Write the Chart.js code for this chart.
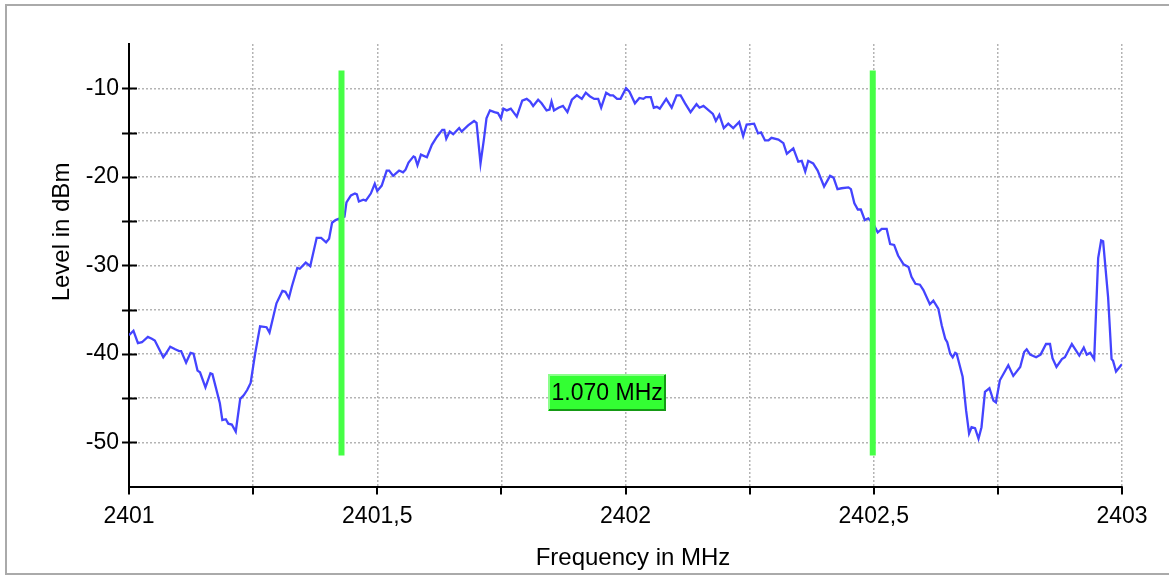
<!DOCTYPE html>
<html>
<head>
<meta charset="utf-8">
<script src="https://cdn.jsdelivr.net/npm/chart.js@4.4.1/dist/chart.umd.min.js"></script>
<style>
  html, body { margin: 0; padding: 0; background: #fff; }
  #wrap { width: 1169px; height: 575px; }
</style>
</head>
<body>
<div id="wrap"><canvas id="spectrum" width="1169" height="575"></canvas></div>
<script>
// spectrum trace (MHz / dBm)
var freqMHz = [
  2401.000,2401.009,2401.018,2401.026,2401.038,2401.046,2401.052,2401.069,2401.074,2401.083,
  2401.093,2401.101,2401.105,2401.115,2401.124,2401.130,2401.138,2401.143,2401.154,2401.164,
  2401.168,2401.183,2401.188,2401.195,2401.200,2401.207,2401.215,2401.224,2401.231,2401.238,
  2401.245,2401.254,2401.264,2401.277,2401.283,2401.297,2401.309,2401.315,2401.322,2401.328,
  2401.339,2401.344,2401.356,2401.365,2401.378,2401.387,2401.397,2401.403,2401.409,2401.416,
  2401.434,2401.438,2401.447,2401.455,2401.459,2401.463,2401.472,2401.477,2401.487,2401.495,
  2401.500,2401.509,2401.519,2401.524,2401.532,2401.544,2401.552,2401.557,2401.563,2401.573,
  2401.576,2401.581,2401.588,2401.600,2401.610,2401.620,2401.631,2401.635,2401.639,2401.646,
  2401.653,2401.665,2401.670,2401.683,2401.695,2401.700,2401.708,2401.715,2401.720,2401.727,
  2401.736,2401.743,2401.749,2401.754,2401.761,2401.769,2401.781,2401.792,2401.801,2401.808,
  2401.814,2401.824,2401.831,2401.841,2401.847,2401.851,2401.856,2401.865,2401.874,2401.883,
  2401.892,2401.902,2401.912,2401.920,2401.928,2401.937,2401.945,2401.951,2401.961,2401.969,
  2401.975,2401.983,2401.990,2402.001,2402.008,2402.019,2402.028,2402.036,2402.041,2402.051,
  2402.057,2402.063,2402.069,2402.082,2402.093,2402.103,2402.111,2402.120,2402.131,2402.143,
  2402.149,2402.157,2402.176,2402.182,2402.189,2402.198,2402.207,2402.217,2402.229,2402.237,
  2402.244,2402.259,2402.267,2402.273,2402.281,2402.288,2402.294,2402.308,2402.318,2402.325,
  2402.338,2402.348,2402.355,2402.362,2402.368,2402.378,2402.387,2402.400,2402.412,2402.419,
  2402.427,2402.435,2402.449,2402.454,2402.461,2402.468,2402.474,2402.482,2402.489,2402.499,
  2402.508,2402.516,2402.526,2402.533,2402.541,2402.549,2402.560,2402.570,2402.576,2402.584,
  2402.593,2402.600,2402.613,2402.620,2402.630,2402.637,2402.644,2402.648,2402.654,2402.659,
  2402.664,2402.667,2402.679,2402.686,2402.692,2402.697,2402.704,2402.711,2402.717,2402.724,
  2402.733,2402.741,2402.746,2402.754,2402.762,2402.771,2402.781,2402.795,2402.803,2402.808,
  2402.815,2402.827,2402.836,2402.847,2402.855,2402.860,2402.868,2402.879,2402.885,2402.899,
  2402.914,2402.923,2402.929,2402.936,2402.944,2402.952,2402.958,2402.962,2402.972,2402.979,
  2402.982,2402.988,2402.998,2403.000
];
var levelDbm = [
  -37.9,-37.4,-38.8,-38.7,-38.1,-38.3,-38.5,-40.4,-40.0,-39.2,
  -39.5,-39.7,-39.7,-41.0,-39.9,-40.0,-41.9,-42.1,-43.8,-42.2,
  -42.3,-45.6,-47.5,-47.4,-47.9,-48.0,-48.8,-45.1,-44.7,-44.1,
  -43.3,-40.0,-36.9,-37.0,-37.6,-34.3,-32.9,-33.0,-33.7,-32.4,
  -30.3,-30.4,-29.7,-30.1,-26.9,-26.9,-27.4,-27.0,-25.2,-24.9,
  -24.5,-22.9,-22.1,-21.9,-22.0,-22.8,-22.6,-22.7,-21.9,-20.8,
  -21.6,-21.0,-19.3,-19.3,-19.9,-19.3,-19.5,-19.2,-18.4,-17.7,
  -17.8,-18.7,-17.5,-17.8,-16.4,-15.5,-14.7,-14.7,-15.7,-14.9,
  -15.2,-14.5,-14.9,-14.2,-13.7,-13.9,-18.5,-15.7,-13.4,-12.5,
  -12.7,-12.8,-13.4,-12.3,-12.5,-12.3,-13.2,-11.4,-11.2,-11.5,
  -12.0,-11.3,-11.7,-12.5,-12.4,-11.5,-12.5,-12.2,-12.0,-12.7,
  -11.3,-10.8,-11.2,-10.5,-10.9,-11.2,-11.2,-12.2,-10.5,-10.8,
  -10.8,-11.2,-11.2,-10.0,-10.4,-11.7,-11.1,-11.2,-11.0,-11.0,
  -12.2,-12.1,-12.3,-11.2,-12.2,-10.8,-10.8,-11.7,-12.7,-11.8,
  -12.2,-12.0,-12.9,-13.7,-13.0,-14.5,-14.0,-14.5,-13.8,-15.4,
  -14.1,-14.0,-15.1,-15.0,-15.9,-15.9,-15.6,-15.8,-16.2,-17.4,
  -16.8,-18.3,-18.2,-19.4,-18.2,-18.5,-19.3,-21.1,-19.9,-20.1,
  -21.4,-21.3,-21.2,-21.4,-23.0,-23.7,-23.7,-24.9,-24.7,-25.3,
  -26.3,-25.9,-25.9,-27.6,-27.7,-28.9,-29.9,-30.2,-31.3,-32.1,
  -32.2,-32.8,-34.4,-34.0,-34.9,-36.8,-38.3,-38.7,-40.0,-40.4,
  -39.9,-40.0,-42.6,-46.4,-49.0,-48.3,-48.4,-49.6,-48.3,-44.3,
  -43.9,-45.3,-45.5,-43.0,-42.2,-41.3,-42.5,-41.5,-39.8,-39.5,
  -40.1,-40.4,-40.1,-38.9,-38.9,-40.5,-41.5,-40.6,-40.4,-38.9,
  -40.2,-39.3,-40.1,-39.9,-40.6,-29.2,-27.2,-27.3,-33.6,-40.6,
  -40.8,-42.0,-41.3,-41.2
];

// bandwidth markers (MHz) and their vertical extent (dBm)
var markerFreqs = [2401.428, 2402.498];
var markerSpan = [-8, -51.5];
// where the bandwidth readout sits (MHz, dBm)
var readoutAt = [2401.963, -44.35];

var FONT = '"Liberation Sans", Arial, Helvetica, sans-serif';

var points = freqMHz.map(function(f, i) { return { x: f, y: levelDbm[i] }; });
var markerSets = markerFreqs.map(function(f) {
  return {
    data: [{ x: f, y: markerSpan[0] }, { x: f, y: markerSpan[1] }],
    borderColor: '#46ff46',
    borderWidth: 6,
    borderCapStyle: 'butt',
    pointRadius: 0,
    order: 0
  };
});

var decorations = {
  id: 'decorations',
  beforeDraw: function(chart) {
    var ctx = chart.ctx;
    ctx.save();
    ctx.fillStyle = '#fff';
    ctx.fillRect(0, 0, chart.width, chart.height);
    ctx.restore();
  },
  afterDraw: function(chart) {
    var ctx = chart.ctx, x = chart.scales.x, y = chart.scales.y;
    var area = chart.chartArea;
    ctx.save();
    ctx.strokeStyle = '#000';
    ctx.lineWidth = 2;
    // y tick marks cross the axis
    y.ticks.forEach(function(t) {
      if (t.value > -10 || t.value < -50) return;
      var py = Math.round(y.getPixelForValue(t.value)) + 0.5;
      ctx.beginPath();
      ctx.moveTo(area.left - 7, py);
      ctx.lineTo(area.left + 8, py);
      ctx.stroke();
    });
    // x tick marks below the axis
    x.ticks.forEach(function(t) {
      var px = Math.round(x.getPixelForValue(t.value));
      ctx.beginPath();
      ctx.moveTo(px, area.bottom);
      ctx.lineTo(px, area.bottom + 8);
      ctx.stroke();
    });

    // axis titles
    ctx.fillStyle = '#000';
    ctx.font = '24px ' + FONT;
    ctx.textAlign = 'center';
    ctx.textBaseline = 'middle';
    ctx.fillText('Frequency in MHz', 633, 558);
    ctx.save();
    ctx.translate(62, 232);
    ctx.rotate(-Math.PI / 2);
    ctx.fillText('Level in dBm', 0, 0);
    ctx.restore();

    // bandwidth readout box
    var bw = (markerFreqs[1] - markerFreqs[0]).toFixed(3) + ' MHz';
    var cx = x.getPixelForValue(readoutAt[0]);
    var cy = y.getPixelForValue(readoutAt[1]);
    var w = 118, h = 37;
    var bx = Math.round(cx - w / 2), by = Math.round(cy - h / 2);
    ctx.fillStyle = '#33ff33';
    ctx.fillRect(bx, by, w, h);
    ctx.lineWidth = 2;
    ctx.strokeStyle = '#8cff8c';
    ctx.beginPath();
    ctx.moveTo(bx + 1, by + h - 1);
    ctx.lineTo(bx + 1, by + 1);
    ctx.lineTo(bx + w - 1, by + 1);
    ctx.stroke();
    ctx.strokeStyle = '#159a15';
    ctx.beginPath();
    ctx.moveTo(bx + w - 1, by + 1);
    ctx.lineTo(bx + w - 1, by + h - 1);
    ctx.lineTo(bx + 1, by + h - 1);
    ctx.stroke();
    ctx.fillStyle = '#000';
    ctx.font = '23px ' + FONT;
    ctx.fillText(bw, cx, cy + 1);

    // outer frame
    ctx.strokeStyle = '#aaaaaa';
    ctx.lineWidth = 2;
    ctx.strokeRect(6, 5, 1175, 569);
    ctx.restore();
  }
};

var ctx = document.getElementById('spectrum').getContext('2d');
window.spectrumChart = new Chart(ctx, {
  type: 'line',
  data: {
    datasets: [{
      data: points,
      borderColor: '#4444ff',
      borderWidth: 2.3,
      pointRadius: 0,
      tension: 0,
      order: 1
    }].concat(markerSets)
  },
  options: {
    responsive: false,
    animation: false,
    devicePixelRatio: 1,
    parsing: false,
    layout: { padding: { left: 0, top: 44, right: 47, bottom: 0 } },
    plugins: { legend: { display: false }, tooltip: { enabled: false } },
    scales: {
      x: {
        type: 'linear',
        min: 2401,
        max: 2403,
        afterFit: function(s) { s.height = 88.5; },
        ticks: {
          stepSize: 0.25,
          autoSkip: false,
          maxRotation: 0,
          padding: 16,
          color: '#000',
          font: { family: FONT, size: 23 },
          callback: function(v) {
            if (Math.abs(v * 2 - Math.round(v * 2)) > 1e-6) return '';
            return String(v).replace('.', ',');
          }
        },
        grid: {
          drawTicks: false,
          color: function(c) {
            return c.tick && Math.abs(c.tick.value - 2401) < 1e-6 ? 'rgba(0,0,0,0)' : '#b4b4b4';
          },
          lineWidth: 1.5
        },
        border: { color: '#000', width: 2, dash: [2, 2] }
      },
      y: {
        min: -55,
        max: -5,
        afterFit: function(s) { s.width = 129; },
        ticks: {
          stepSize: 5,
          padding: 10,
          color: '#000',
          font: { family: FONT, size: 23 },
          callback: function(v) {
            if (v % 10 !== 0 || v === -5 || v === -55) return '';
            return String(v);
          }
        },
        grid: {
          drawTicks: false,
          color: function(c) {
            var v = c.tick && c.tick.value;
            return (v === -5 || v === -55) ? 'rgba(0,0,0,0)' : '#b4b4b4';
          },
          lineWidth: 1.5
        },
        border: { color: '#000', width: 2, dash: [2, 2] }
      }
    }
  },
  plugins: [decorations]
});
</script>
</body>
</html>
